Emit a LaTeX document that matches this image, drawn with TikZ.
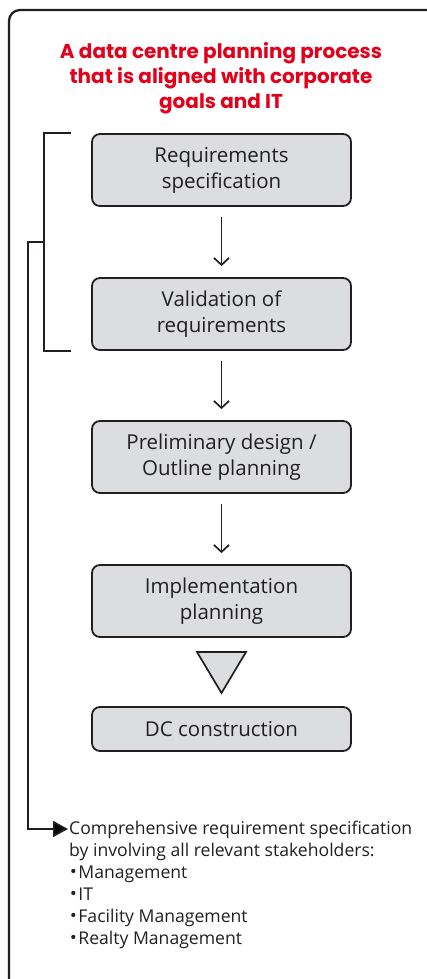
\documentclass[tikz,border=0pt]{standalone}
\usepackage{fontspec}
\setmainfont{Open Sans}
\newfontfamily\titlefont{Poppins}[BoldFont={* Bold}]
\usetikzlibrary{arrows.meta}
\definecolor{titlered}{HTML}{E2001A}
\definecolor{boxgray}{HTML}{DCDDDF}
\definecolor{ink}{HTML}{231F20}
\tikzset{
  stepbox/.style={draw=ink, fill=boxgray, line width=1.8pt, rounded corners=8pt,
    minimum width=259pt, minimum height=72pt, align=center, text=ink,
    font=\fontsize{20.5}{26}\selectfont, inner sep=0pt},
  flow/.style={draw=ink, line width=1.7pt, -{Straight Barb[length=7pt,width=15pt]},
    shorten <=10pt, shorten >=11pt},
  frame/.style={draw=ink, line width=2.3pt, rounded corners=11pt},
  bracketline/.style={draw=ink, line width=1.7pt},
  notetext/.style={align=left, text=ink, inner sep=0pt,
    font=\fontsize{17.6}{22}\selectfont}
}
\newcommand{\bul}{\raisebox{0.32em}{\tikz\fill[ink] circle (2.1pt);}\hspace{3pt}}
\begin{document}
\begin{tikzpicture}[x=1pt,y=-1pt]
\useasboundingbox (0,0) rectangle (427,979);
\begin{scope}
  \clip (0,0) rectangle (427,979);
  \draw[frame] (9,10) rectangle (460,1010);
\end{scope}

% heading
\node[text=titlered, align=center, font=\titlefont\bfseries\fontsize{20}{25}\selectfont]
  (title) at (221,78) {A data centre planning process\\that is aligned with corporate\\goals and IT};

% process steps
\node[stepbox] (b1) at (221.5,170) {Requirements\\specification};
\node[stepbox] (b2) at (221.5,314) {Validation of\\requirements};
\node[stepbox] (b3) at (221.5,457) {Preliminary design /\\Outline planning};
\node[stepbox] (b4) at (221.5,601) {Implementation\\planning};
\node[stepbox, minimum height=44pt] (b5) at (221.5,729) {DC construction};

\draw[flow] (b1) -- (b2);
\draw[flow] (b2) -- (b3);
\draw[flow] (b3) -- (b4);

% hand-over triangle
\draw[draw=ink, fill=boxgray, line width=1.7pt, line join=miter]
  (197,652) -- (246,652) -- (221.5,693) -- cycle;

% bracket grouping the first two steps
\coordinate (brtop) at ([xshift=-20pt]b1.north west);
\coordinate (brbot) at ([xshift=-20pt]b2.south west);
\draw[bracketline] (brtop) -- ++(-27,0) coordinate (brtl) |- (brbot);
\coordinate (brmid) at (45,242);

% note on stakeholders
\node[notetext, anchor=north west] (note) at (69,821)
  {Comprehensive requirement specification\\
   by involving all relevant stakeholders:\\
   \hspace*{2pt}\bul Management\\
   \hspace*{2pt}\bul IT\\
   \hspace*{2pt}\bul Facility Management\\
   \hspace*{2pt}\bul Realty Management};
\coordinate (tip) at (68,829);
\draw[bracketline, -{Triangle[length=15pt,width=16pt]}] (brmid) -- (28,242) |- (tip);
\end{tikzpicture}
\end{document}
